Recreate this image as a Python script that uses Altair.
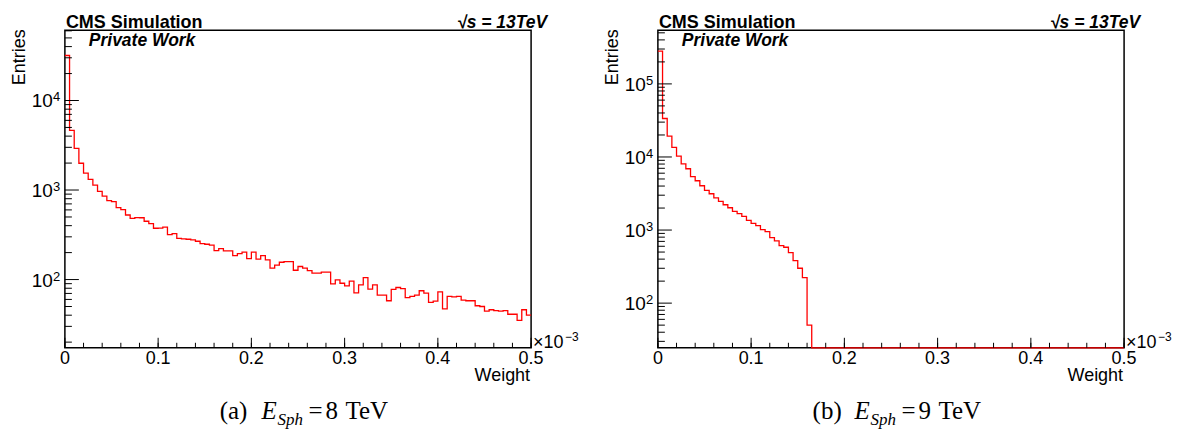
import altair as alt
import pandas as pd

# ---------------- data ----------------
# 100 bins, 0 .. 0.5 (x 10^-3), bin width 0.005
left_counts = [31800, 4640, 2920, 1990, 1546, 1315, 1137, 967, 857, 760,
               741, 636, 603, 526, 483, 491, 490, 448, 421, 374,
               375, 386, 318, 326, 289, 284, 282, 277, 268, 252,
               248, 243, 211, 222, 209, 209, 185, 195, 202, 171,
               202, 169, 185, 166, 134, 145, 156, 159, 159, 127,
               140, 134, 126, 118, 118, 121, 121, 89.5, 99, 91,
               85, 96, 71, 87, 105, 78, 87, 67, 67, 58,
               77.5, 81.5, 79, 63, 65, 67, 75, 70.5, 55.5, 57.5,
               73, 47, 65, 64, 65, 59, 58, 58, 51, 50,
               44.5, 46, 45, 44.5, 45, 41, 41, 35, 46, 40]
right_counts = [280000, 33600, 19300, 13500, 10300, 8070, 6900, 5370, 4730, 4040,
                3500, 3140, 2750, 2470, 2220, 2020, 1806, 1675, 1542, 1360,
                1238, 1148, 1012, 950, 787, 710, 612, 582, 491, 382,
                300, 224, 50] + [0] * 67

left_ydomain = [17.3, 60800]
right_ydomain = [24.5, 541000]
left_major_exps = [2, 3, 4]
right_major_exps = [2, 3, 4, 5]
x_major = [0, 0.1, 0.2, 0.3, 0.4, 0.5]
x_major_labels = ["0", "0.1", "0.2", "0.3", "0.4", "0.5"]
x_minor = [round(i * 0.02, 2) for i in range(26)]
captions = [("(a)", "8"), ("(b)", "9")]

BIN_W = 0.005
W, H = 467, 318
SANS = "Liberation Sans"
SERIF = "Liberation Serif"


def minor_log_ticks(dom):
    out = []
    for e in range(0, 7):
        for m in range(2, 10):
            v = m * 10 ** e
            if dom[0] <= v <= dom[1]:
                out.append(v)
    return out


def hist_df(counts):
    xs = [i * BIN_W for i in range(len(counts))] + [len(counts) * BIN_W]
    ys = list(counts) + [counts[-1]]
    return pd.DataFrame({"x": xs, "n": ys})


def txt(text, x, y, size, weight="normal", style="normal", align="left",
        font=SANS, angle=0, color="black"):
    kw = dict(align=align, baseline="alphabetic", fontSize=size, font=font,
              fontWeight=weight, fontStyle=style, color=color)
    if angle:
        kw["angle"] = angle
    return alt.Chart(alt.Data(values=[{"t": text}])).mark_text(**kw).encode(
        x=alt.value(x), y=alt.value(y), text="t:N")


def panel(counts, ydom, major_exps, cap, first):
    xs = alt.Scale(domain=[0, 0.5], nice=False, zero=False)
    ys = alt.Scale(type="log", domain=ydom, nice=False, clamp=True)

    layers = []
    if first:
        layers.append(
            alt.Chart(alt.Data(values=[{}])).mark_rect(opacity=0).encode(
                x=alt.value(-64), x2=alt.value(1113),
                y=alt.value(-29), y2=alt.value(403)))

    line = alt.Chart(hist_df(counts)).transform_calculate(
        ny=f"max(datum.n, {ydom[0]})"
    ).mark_line(interpolate="step-after", color="#ff0000", strokeWidth=1.3).encode(
        x=alt.X("x:Q", scale=xs, axis=None),
        y=alt.Y("ny:Q", scale=ys, axis=None))
    layers.append(line)

    maj = alt.Chart(pd.DataFrame({"t": [10 ** e for e in major_exps],
                                  "e": [str(e) for e in major_exps]}))
    mnr = alt.Chart(pd.DataFrame({"t": minor_log_ticks(ydom)}))
    yenc = alt.Y("t:Q", scale=ys, axis=None)
    layers.append(maj.mark_rule(color="black", strokeWidth=1).encode(
        y=yenc, x=alt.value(0), x2=alt.value(14)))
    layers.append(mnr.mark_rule(color="black", strokeWidth=1).encode(
        y=yenc, x=alt.value(0), x2=alt.value(7)))
    layers.append(maj.mark_text(align="right", baseline="alphabetic", fontSize=19,
                                font=SANS, dy=7).encode(
        y=yenc, x=alt.value(-12), text=alt.value("10")))
    layers.append(maj.mark_text(align="left", baseline="alphabetic", fontSize=13,
                                font=SANS, dy=1).encode(
        y=yenc, x=alt.value(-12), text="e:N"))

    xmaj = alt.Chart(pd.DataFrame({"t": x_major, "lab": x_major_labels}))
    xmnr = alt.Chart(pd.DataFrame({"t": x_minor}))
    xenc = alt.X("t:Q", scale=xs, axis=None)
    layers.append(xmaj.mark_rule(color="black", strokeWidth=1).encode(
        x=xenc, y=alt.value(H), y2=alt.value(H - 10)))
    layers.append(xmnr.mark_rule(color="black", strokeWidth=1).encode(
        x=xenc, y=alt.value(H), y2=alt.value(H - 5)))
    layers.append(xmaj.mark_text(align="center", baseline="alphabetic", fontSize=18,
                                 font=SANS, dy=16).encode(
        x=xenc, y=alt.value(H), text="lab:N"))

    # annotations
    layers.append(txt("CMS Simulation", 1, -2, 18, weight="bold"))
    layers.append(txt("Private Work", 24, 16, 17.5, weight="bold", style="italic"))
    layers.append(txt("\u221as = 13TeV", 483, -2, 17.5, weight="bold", style="italic",
                      align="right"))
    layers.append(txt("Entries", -40, -1, 18, align="right", angle=270))
    layers.append(txt("Weight", 466, 351, 18, align="right"))
    layers.append(txt("\u00d710", 469, 318, 18))
    layers.append(txt("\u22123", 501, 311, 12))

    # caption
    lab, en = cap
    layers.append(txt(lab, 155, 389, 25, font=SERIF))
    layers.append(txt("E", 197, 389, 25, font=SERIF, style="italic"))
    layers.append(txt("Sph", 213, 395, 17, font=SERIF, style="italic"))
    layers.append(txt("=", 244, 389, 25, font=SERIF))
    layers.append(txt(en, 261, 389, 25, font=SERIF))
    layers.append(txt("TeV", 281, 389, 25, font=SERIF))

    return alt.layer(*layers).properties(width=W, height=H)


left = panel(left_counts, left_ydomain, left_major_exps, captions[0], True)
right = panel(right_counts, right_ydomain, right_major_exps, captions[1], False)

chart = alt.hconcat(left, right, spacing=127, bounds="flush").properties(
    padding=0
).configure_view(stroke="black", strokeWidth=1.5)

chart.save("out.html", embed_options={"renderer": "svg", "actions": False})
